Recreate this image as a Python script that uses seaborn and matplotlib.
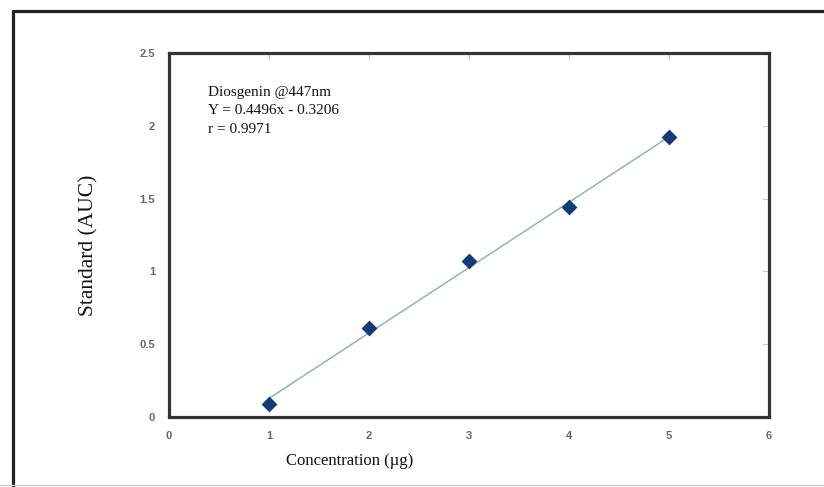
import matplotlib
matplotlib.use("Agg")
import matplotlib.pyplot as plt
from matplotlib.lines import Line2D
import pandas as pd
import seaborn as sns

# calibration points
concentration = [1, 2, 3, 4, 5]
standard_auc = [0.09, 0.61, 1.07, 1.44, 1.92]
x_ticks = [0, 1, 2, 3, 4, 5, 6]
y_ticks = [0, 0.5, 1, 1.5, 2, 2.5]
y_tick_labels = ["0", "0.5", "1", "1.5", "2", "2.5"]
note = "Diosgenin @447nm\nY = 0.4496x - 0.3206\nr = 0.9971"

df = pd.DataFrame({"conc": concentration, "auc": standard_auc})

sns.set_style("white")
plt.rcParams["font.family"] = ["Liberation Serif", "DejaVu Serif"]

fig = plt.figure(figsize=(8.24, 4.87), dpi=100)
ax = fig.add_axes([169 / 824, 1 - 417 / 487, 600 / 824, 364 / 487])

sns.regplot(data=df, x="conc", y="auc", ax=ax, ci=None, marker="D",
            scatter_kws={"s": 65, "color": "#133c76", "alpha": 1,
                         "zorder": 3, "linewidths": 0},
            line_kws={"color": "#8fb0cc", "linewidth": 1.1, "zorder": 2})

ax.set_xlim(0, 6)
ax.set_ylim(0, 2.5)
ax.set_xticks(x_ticks)
ax.set_yticks(y_ticks)
ax.set_yticklabels(y_tick_labels)

for s in ax.spines.values():
    s.set_color("#333333")
    s.set_linewidth(2.3)

ax.tick_params(direction="in", length=5, width=0.8, color="#cccccc",
               top=True, right=True, labelsize=8, labelcolor="#666666", pad=10)
for lab in ax.get_xticklabels() + ax.get_yticklabels():
    lab.set_family("Liberation Sans")
    lab.set_fontweight("bold")

ax.set_xlabel("Concentration (µg)", fontsize=12, color="#111111")
ax.xaxis.set_label_coords((350 - 169) / 600, (417 - 453) / 364)
ax.set_ylabel("Standard (AUC)", fontsize=15.5, color="#111111")
ax.yaxis.set_label_coords((98 - 169) / 600, (417 - 245) / 364)

ax.text(0.065, 0.91, note, transform=ax.transAxes, fontsize=11,
        va="top", ha="left", linespacing=1.55, color="#111111")

# outer frame of the original figure, cropped on the right and bottom
fig.add_artist(Line2D([13 / 824, 13 / 824], [0, 1 - 11 / 487],
                      color="#222222", linewidth=2.3, transform=fig.transFigure))
fig.add_artist(Line2D([13 / 824, 1], [1 - 11 / 487, 1 - 11 / 487],
                      color="#222222", linewidth=2.3, transform=fig.transFigure))
fig.add_artist(Line2D([0, 1], [2 / 487, 2 / 487],
                      color="#cccccc", linewidth=1, transform=fig.transFigure))

fig.savefig("out.png", dpi=100)
